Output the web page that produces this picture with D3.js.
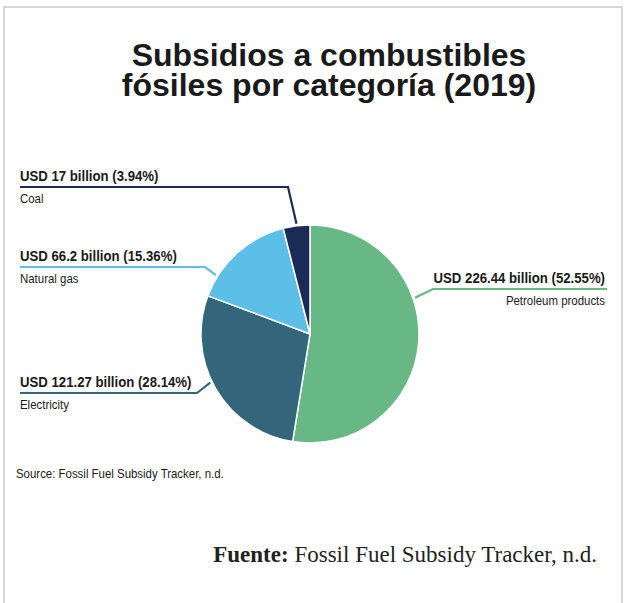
<!DOCTYPE html>
<html>
<head>
<meta charset="utf-8">
<script src="https://cdn.jsdelivr.net/npm/d3@7"></script>
<style>
  body { margin: 0; background: #fff; }
  svg { display: block; }
  .narrow { font-family: "Liberation Sans Narrow", "Liberation Sans", Arial, sans-serif; fill: #1a1a1a; }
</style>
</head>
<body>
<script>
// data
const categories = ["Petroleum products", "Electricity", "Natural gas", "Coal"];
const valuesBn = [226.44, 121.27, 66.2, 17];
const shares = [52.55, 28.14, 15.36, 3.94];
const colors = ["#67b884", "#33667a", "#5bbfe8", "#1b2a57"];

const W = 624, H = 603;
const cx = 310, cy = 334, r = 109;
const squeeze = 0.88; // no condensed font installed, so squeeze horizontally

const svg = d3.select("body").append("svg")
    .attr("width", W)
    .attr("height", H);

// frame
svg.append("path")
    .attr("d", `M4,${H} V7 H622 V${H}`)
    .attr("fill", "none")
    .attr("stroke", "#c9c9cc")
    .attr("stroke-width", 1.5);

// title
const title = svg.append("text")
    .attr("text-anchor", "middle")
    .attr("font-family", "Liberation Sans, Arial, sans-serif")
    .attr("font-weight", "bold")
    .attr("font-size", 32)
    .attr("fill", "#1a1a1a");
title.append("tspan").attr("x", 329).attr("y", 66).text("Subsidios a combustibles");
title.append("tspan").attr("x", 329).attr("y", 96).text("fósiles por categoría (2019)");

// narrow text helper
function narrowText(x, y, txt, size, weight, anchor) {
    return svg.append("text")
        .attr("class", "narrow")
        .attr("transform", `translate(${x},${y}) scale(${squeeze},1)`)
        .attr("text-anchor", anchor || "start")
        .attr("font-weight", weight || "normal")
        .attr("font-size", size)
        .text(txt);
}

// pie
const pie = d3.pie().sort(null).value(d => d.value);
const arc = d3.arc().innerRadius(0).outerRadius(r);
const rows = categories.map((c, i) => ({ name: c, value: valuesBn[i], share: shares[i], color: colors[i] }));
const arcs = pie(rows);

const g = svg.append("g").attr("transform", `translate(${cx},${cy})`);
g.selectAll("path.slice")
    .data(arcs)
    .join("path")
    .attr("class", "slice")
    .attr("d", arc)
    .attr("fill", d => d.data.color)
    .attr("stroke", "#fff")
    .attr("stroke-width", 1.5);

// callouts: where the leader touches the pie (degrees from 12 o'clock), elbow and label placement
const callouts = [
    { angle: 71,  side: "right", elbowX: 433, lineY: 289, textX: 605, lineEnd: 607 },
    { angle: 244, side: "left",  elbowX: 197, lineY: 393, textX: 20,  lineEnd: 20 },
    { angle: 302, side: "left",  elbowX: 205, lineY: 267, textX: 20,  lineEnd: 20 },
    { angle: 353, side: "left",  elbowX: 288, lineY: 187, textX: 20,  lineEnd: 20 }
];

const fmt = d3.format(".2f");
const valueText = v => "USD " + (Number.isInteger(v) ? v : String(+v.toFixed(2))) + " billion";

arcs.forEach((a, i) => {
    const c = callouts[i];
    const rad = c.angle * Math.PI / 180;
    const px = cx + Math.sin(rad) * (r + 2);
    const py = cy - Math.cos(rad) * (r + 2);
    svg.append("path")
        .attr("d", `M${px},${py} L${c.elbowX},${c.lineY} H${c.lineEnd}`)
        .attr("fill", "none")
        .attr("stroke", a.data.color)
        .attr("stroke-width", 2.2);

    const anchor = c.side === "right" ? "end" : "start";
    narrowText(c.textX, c.lineY - 6, `${valueText(a.data.value)} (${fmt(a.data.share)}%)`, 15, "bold", anchor);
    narrowText(c.textX, c.lineY + 16, a.data.name, 13, "normal", anchor);
});

// source inside chart
narrowText(16, 478, "Source: Fossil Fuel Subsidy Tracker, n.d.", 13);

// footer
const foot = svg.append("text")
    .attr("x", 597)
    .attr("y", 562)
    .attr("text-anchor", "end")
    .attr("font-family", "Liberation Serif, 'DejaVu Serif', serif")
    .attr("font-size", 23)
    .attr("fill", "#231f20");
foot.append("tspan").attr("font-weight", "bold").text("Fuente:");
foot.append("tspan").text(" Fossil Fuel Subsidy Tracker, n.d.");
</script>
</body>
</html>
